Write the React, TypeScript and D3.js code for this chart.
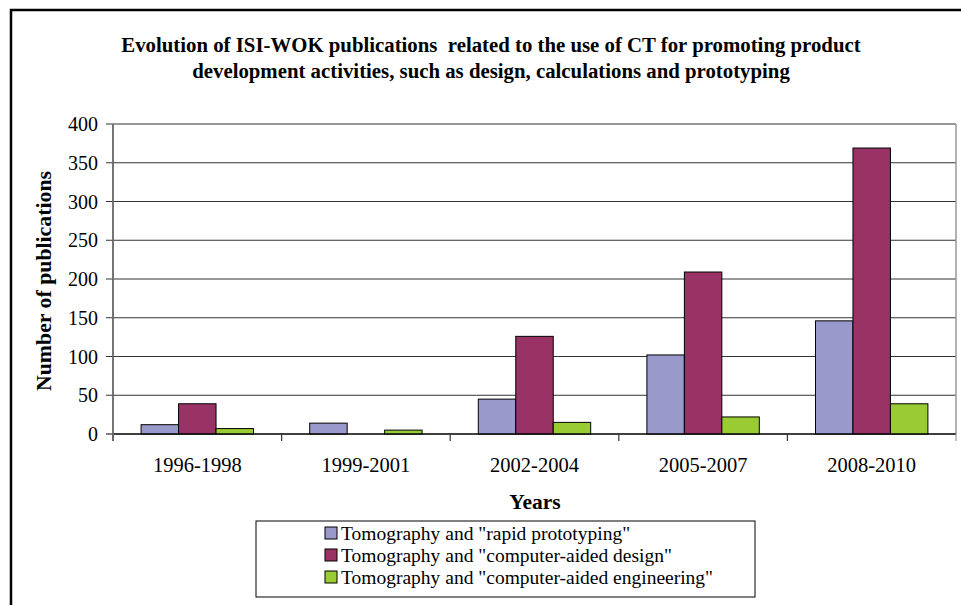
import React from "react";
import * as d3 from "d3";

const categories = ["1996-1998", "1999-2001", "2002-2004", "2005-2007", "2008-2010"];
const seriesNames = [
  'Tomography and "rapid prototyping"',
  'Tomography and "computer-aided design"',
  'Tomography and "computer-aided engineering"',
];
const rapidPrototyping = [12, 14, 45, 102, 146];
const computerAidedDesign = [39, 0, 126, 209, 369];
const computerAidedEngineering = [7, 5, 15, 22, 39];
const yTicks = [0, 50, 100, 150, 200, 250, 300, 350, 400];
const colors = ["#9999CC", "#993366", "#99CC33"];
const titleLines = [
  "Evolution of ISI-WOK publications  related to the use of CT for promoting product",
  "development activities, such as design, calculations and prototyping",
];

export default function App() {
  const W = 961, H = 605;
  const left = 113, right = 956, top = 124, bottom = 434;
  const series = [rapidPrototyping, computerAidedDesign, computerAidedEngineering];
  const y = d3.scaleLinear().domain([0, 400]).range([bottom, top]);
  const x0 = d3.scaleBand().domain(categories).range([left, right]).paddingInner(0).paddingOuter(0);
  const groupW = x0.bandwidth();
  const barW = groupW / (3 + 1.5);
  const font = '"Liberation Serif", "Times New Roman", serif';
  return (
    <svg width={W} height={H} style={{ position: "absolute", left: 0, top: 0, background: "#fff", fontFamily: font }}>
      <rect x={0} y={0} width={W} height={H} fill="#fff" />
      {/* outer frame */}
      <path d={`M11,${H + 5} L11,10 L${W + 5},10`} fill="none" stroke="#000" strokeWidth={2.5} />
      {/* title */}
      {titleLines.map((t, i) => (
        <text key={i} x={491} y={52 + i * 26} textAnchor="middle" fontWeight="bold" fontSize={20.8} fill="#000" style={{ whiteSpace: "pre" }}>
          {t}
        </text>
      ))}
      {/* gridlines */}
      {yTicks.map((v) => (
        <g key={v}>
          <line x1={left - 7} x2={right} y1={y(v)} y2={y(v)} stroke={v === 0 ? "#000" : "#333"} strokeWidth={1} />
          <text x={98} y={y(v)} dy="0.35em" textAnchor="end" fontSize={20} fill="#000">
            {v}
          </text>
        </g>
      ))}
      {/* plot right border */}
      <line x1={right} x2={right} y1={top} y2={bottom} stroke="#999" strokeWidth={1.5} />
      {/* bars */}
      {categories.map((c, ci) => (
        <g key={c}>
          {series.map((s, si) => {
            const v = s[ci];
            if (!v) return null;
            const bx = (x0(c) as number) + barW * 0.75 + si * barW;
            return (
              <rect
                key={si}
                x={bx}
                y={y(v)}
                width={barW}
                height={bottom - y(v)}
                fill={colors[si]}
                stroke="#000"
                strokeWidth={1}
              />
            );
          })}
          <text x={(x0(c) as number) + groupW / 2} y={472} textAnchor="middle" fontSize={20.5} fill="#000">
            {c}
          </text>
        </g>
      ))}
      {/* x axis */}
      <line x1={left} x2={right} y1={bottom} y2={bottom} stroke="#000" strokeWidth={1.2} />
      {categories.map((c, ci) => (
        <line
          key={"t" + ci}
          x1={(x0(c) as number)}
          x2={(x0(c) as number)}
          y1={bottom}
          y2={bottom + 7}
          stroke="#333"
          strokeWidth={1.2}
        />
      ))}
      <line x1={right} x2={right} y1={bottom} y2={bottom + 7} stroke="#999" strokeWidth={1.2} />
      {/* y axis */}
      <line x1={left} x2={left} y1={top} y2={bottom + 7} stroke="#666" strokeWidth={1.8} />
      {/* axis titles */}
      <text
        transform={`translate(51,281) rotate(-90)`}
        textAnchor="middle"
        fontWeight="bold"
        fontSize={21.8}
        fill="#000"
      >
        Number of publications
      </text>
      <text x={535} y={509} textAnchor="middle" fontWeight="bold" fontSize={21.5} fill="#000">
        Years
      </text>
      {/* legend */}
      <rect x={256} y={521} width={499} height={76} fill="#fff" stroke="#000" strokeWidth={1} />
      {seriesNames.map((n, i) => (
        <g key={n}>
          <rect x={325} y={527 + i * 22} width={12} height={12} fill={colors[i]} stroke="#000" strokeWidth={1} />
          <text x={341} y={533 + i * 22} dy="0.35em" fontSize={19.5} fill="#000">
            {n}
          </text>
        </g>
      ))}
    </svg>
  );
}
